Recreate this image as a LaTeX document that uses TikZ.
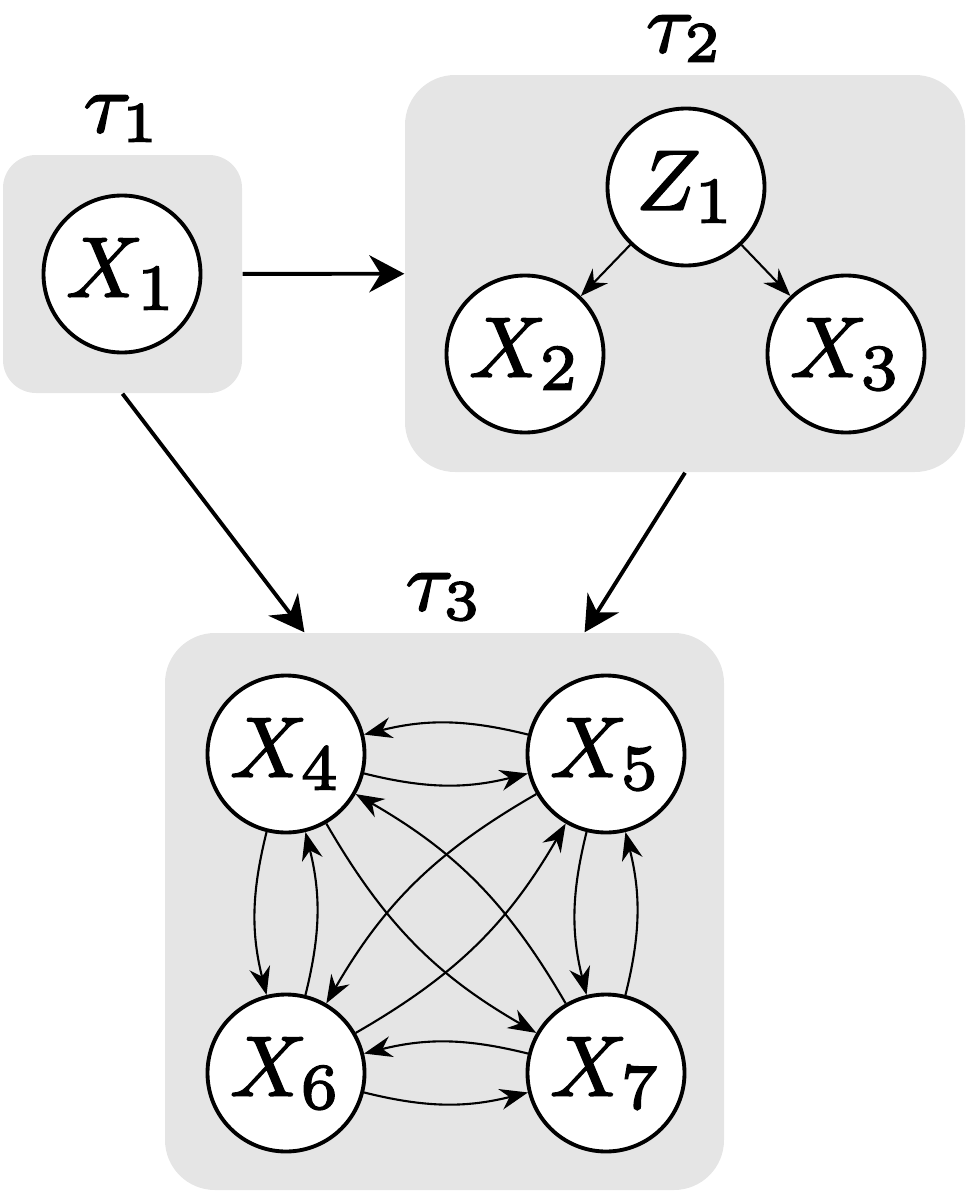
\documentclass[tikz,border=0pt]{standalone}
\usepackage{fix-cm}
\usetikzlibrary{positioning,calc,arrows.meta}
\DeclareMathSizes{10}{10}{7.6}{5}
\newcommand{\heavytext}[1]{\special{pdf:literal direct 2 Tr 0.18 w}#1\special{pdf:literal direct 0 Tr}}
\newcommand{\nodetext}[1]{\scalebox{2.43}{\heavytext{$#1$}}}
\newcommand{\grouptext}[1]{\scalebox{2.69}{\small\heavytext{$#1$}}}
\begin{document}
\begin{tikzpicture}[
    var/.style={shape=circle,draw=black,fill=white,line width=1.1pt,minimum size=1.57cm,inner sep=0pt},
    group/.style={fill=gray!20,inner sep=0pt},
    tag/.style={inner sep=0pt},
    flow/.style={-{Stealth[length=0.35cm,width=0.37cm]},line width=1.1pt},
    link/.style={-{Stealth[length=0.28cm,width=0.21cm]},line width=0.6pt}]
    \useasboundingbox (0,0) rectangle (9.68,-11.92);
    % groups
    \node[group,rounded corners=0.33cm,minimum width=2.39cm,minimum height=2.38cm] (Tau1) at (1.225,-2.74) {};
    \node[group,rounded corners=0.5cm,minimum width=5.6cm,minimum height=3.97cm] (Tau2) at (6.85,-2.735) {};
    \node[group,rounded corners=0.5cm,minimum width=5.59cm,minimum height=5.57cm] (Tau3) at (4.445,-9.115) {};
    \node[tag,above=0.12cm of Tau1] (T1) {\grouptext{\tau_1}};
    \node[tag,above=0.12cm of Tau2] (T2) {\grouptext{\tau_2}};
    \node[tag,above=0.12cm of Tau3] (T3) {\grouptext{\tau_3}};
    % variables
    \node[var] (X1) at (1.22,-2.74) {\nodetext{X_1}};
    \node[var] (Z1) at (6.86,-1.87) {\nodetext{Z_1}};
    \node[var] (X2) at (5.25,-3.54) {\nodetext{X_2}};
    \node[var] (X3) at (8.46,-3.54) {\nodetext{X_3}};
    \node[var] (X4) at (2.86,-7.54) {\nodetext{X_4}};
    \node[var] (X5) at (6.06,-7.54) {\nodetext{X_5}};
    \node[var] (X6) at (2.86,-10.73) {\nodetext{X_6}};
    \node[var] (X7) at (6.06,-10.73) {\nodetext{X_7}};
    \coordinate (In1) at ($(Tau3.north west)!0.25!(Tau3.north east)$);
    \coordinate (In2) at ($(Tau3.north west)!0.75!(Tau3.north east)$);
    % between groups
    \path [flow] (Tau1) edge (Tau2);
    \path [flow] (Tau1.south) edge (In1);
    \path [flow] (Tau2.south) edge (In2);
    % inside groups
    \path [link] (Z1) edge (X2);
    \path [link] (Z1) edge (X3);
    \path [link,bend right=14] (X4) edge (X5) (X5) edge (X4)
        (X6) edge (X7) (X7) edge (X6)
        (X4) edge (X6) (X6) edge (X4)
        (X5) edge (X7) (X7) edge (X5);
    \path [link,bend right=15] (X4) edge (X7) (X7) edge (X4)
        (X5) edge (X6) (X6) edge (X5);
\end{tikzpicture}
\end{document}
